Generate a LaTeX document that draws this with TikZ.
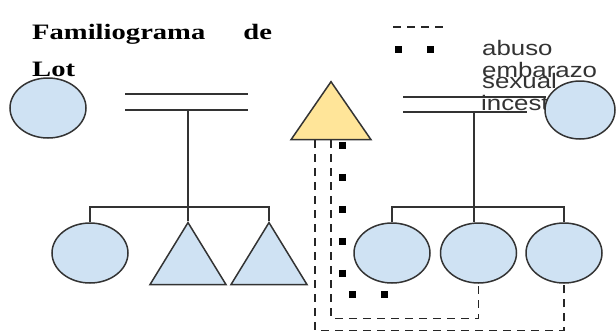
\documentclass[tikz,border=0pt]{standalone}
\usepackage{fontspec}
\usepackage{graphicx}
\setmainfont{Liberation Serif}
\newfontfamily\legendfont{Liberation Sans}
\usetikzlibrary{calc,positioning,shapes.geometric}
\newcommand{\wide}[2][1.3]{\scalebox{#1}[1]{#2}}
\definecolor{femfill}{HTML}{CFE2F3}
\definecolor{lotfill}{HTML}{FFE599}
\definecolor{ink}{HTML}{333333}

\begin{document}
\begin{tikzpicture}[x=1pt,y=-1pt]
	\tikzstyle{fem} = [draw=ink, line width=1.5pt, fill=femfill, ellipse, inner sep=0pt, minimum width=76pt, minimum height=60pt]
	\tikzstyle{masc} = [draw=ink, line width=1.5pt, fill=femfill, isosceles triangle, isosceles triangle stretches, shape border rotate=90, inner sep=0pt, minimum width=76pt, minimum height=62pt]
	\tikzstyle{link} = [draw=ink, line width=1.3pt]
	\tikzstyle{incesto} = [draw=black!85, line width=1.7pt, dash pattern=on 8pt off 6pt]
	\tikzstyle{abuso} = [draw=black, line width=7pt, dash pattern=on 7pt off 25pt]
	\tikzstyle{leyenda} = [anchor=base west, inner sep=0pt, text=ink, font=\legendfont\fontsize{21}{21}\selectfont]
	
	\useasboundingbox (0,0) rectangle (616,333);
	
	\node [anchor=base west, inner sep=0pt, align=left, font=\bfseries\fontsize{22}{37}\selectfont] (titulo) at (32,76) {\wide{Familiograma}\hspace{38pt}\wide{de}\\\wide{Lot}};
	
	% parejas
	\coordinate (pL1) at (125,94);
	\coordinate (pL2) at (248,94);
	\coordinate (pL3) at (125,110);
	\coordinate (pL4) at (248,110);
	\coordinate (pR1) at (403,97);
	\coordinate (pR2) at (546,97);
	\coordinate (pR3) at (403,112);
	\coordinate (pR4) at (527,112);
	\draw [link] (pL1) -- (pL2);
	\draw [link] (pL3) -- (pL4);
	\draw [link] (pR1) -- (pR2);
	\draw [link] (pR3) -- (pR4);
	
	% leyenda
	\coordinate (lgI1) at (393,27);
	\coordinate (lgI2) at (446,27);
	\coordinate (lgA1) at (395,49);
	\coordinate (lgA2) at (435,49);
	\draw [incesto] (lgI1) -- (lgI2);
	\draw [abuso] (lgA1) -- (lgA2);
	\node [leyenda] (abuso) at (482,55) {\wide[1.23]{abuso}};
	\node [leyenda] (embarazo) at (482,77) {\wide[1.23]{embarazo}};
	\node [leyenda] (sexual) at (482,88) {\wide[1.23]{sexual}};
	\node [leyenda] (incest) at (481,110) {\wide[1.23]{incest}};
	
	% personas
	\node [fem] (tL) at (48,108) {};
	\node [fem, minimum width=70pt, minimum height=58pt] (tR) at (580,110) {};
	\node [masc, fill=lotfill, minimum width=80pt, minimum height=58pt] (lot) at (331,118.7) {};
	\node [fem] (kL) at (90,253) {};
	\node [masc] (hL1) at (188,263.3) {};
	\node [masc] (hL2) at (269,263.3) {};
	\node [fem] (kR1) at (392,253) {};
	\node [fem, right = 9pt of kR1] (kR2) {};
	\node [fem, right = 8pt of kR2] (kR3) {};
	
	\coordinate (base) at ($(lot.left corner)!0.5!(lot.right corner)$);
	\coordinate (mL) at (188,110);
	\coordinate (jL) at (188,207);
	\coordinate (mR) at (474,112);
	\coordinate (jR) at (474,207);
	
	% hijos
	\draw [link] (mL) -- (jL);
	\draw [link] (kL.north) |- (jL) -| (hL2.apex);
	\draw [link] (jL) -- (hL1.apex);
	\draw [link] (mR) -- (jR);
	\draw [link] (kR1.north) |- (jR) -| (kR3.north);
	\draw [link] (jR) -- (jR |- kR2.north);
	
	% lazos de Lot
	\draw [incesto] ([xshift=-16pt]base) -- ++(0,190) -| (kR3.south);
	\draw [incesto] (base) -- ++(0,178) -| (kR2.south);
	\draw [abuso] ([xshift=11pt,yshift=-1.5pt]base) -- ++(0,153) -| (kR1.south);
	
\end{tikzpicture}
\end{document}
